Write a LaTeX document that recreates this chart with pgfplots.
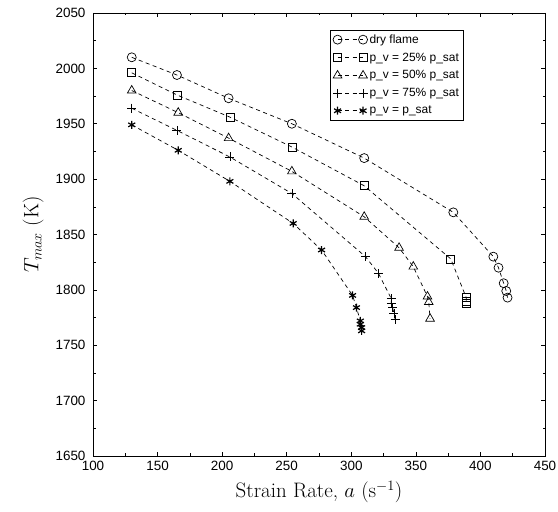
\documentclass[border=0pt]{standalone}
\usepackage{pgfplots}
\pgfplotsset{compat=1.18}
\usepackage{fontspec}
\newfontfamily\helv{Liberation Sans}
\begin{document}
\begin{tikzpicture}
\path[use as bounding box] (0,0) rectangle (558bp,512bp);
\begin{axis}[
  at={(93bp,56bp)}, anchor=south west,
  scale only axis, width=452bp, height=443bp,
  xmin=100, xmax=450, ymin=1650, ymax=2050,
  xtick={100,150,...,450}, ytick={1650,1700,...,2050},
  minor tick num=1,
  tick align=inside,
  major tick length=4bp, minor tick length=2.5bp,
  tick style={black, line width=0.5pt},
  axis line style={line width=0.8pt},
  ticklabel style={font=\helv\fontsize{13.5}{14}\selectfont},
  xticklabel style={yshift=-2bp},
  yticklabel style={xshift=-4bp},
  /pgf/number format/assume math mode=true,
  /pgf/number format/set thousands separator={},
  xlabel={Strain Rate, $a$ (s$^{-1}$)},
  ylabel={$T_{max}$ (K)},
  label style={font=\fontsize{21}{23}\selectfont},
  xlabel style={yshift=-3bp},
  ylabel style={yshift=5bp},
  cycle list={{black}},
  every axis plot/.append style={black, dash pattern=on 4bp off 3.5bp, line width=0.7pt, mark options={solid, fill=white, line width=0.7pt}},
  legend style={at={(0.525,0.962)}, anchor=north west, font=\helv\fontsize{12}{13}\selectfont, draw=black, line width=0.5pt, inner sep=2.5pt, row sep=4bp, cells={anchor=west}},
  legend image code/.code={\draw[#1] plot coordinates {(0cm,0cm) (0.9cm,0cm)};},
]
\addplot[mark=o, mark size=4.5bp] coordinates {
(130,2010) (165,1994) (205,1973) (254,1950) (310,1919) (379,1870) (410,1830) (414,1820) (418,1806) (420,1799) (421,1793)};
\addlegendentry{dry flame}
\addplot[mark=square, mark size=4bp] coordinates {
(130,1996) (165,1976) (206,1956) (254,1929) (310,1894) (377,1828) (389,1793) (389,1790) (389,1788)};
\addlegendentry{p\_v = 25\%  p\_sat}
\addplot[mark=triangle, mark size=5bp] coordinates {
(130,1980) (166,1960) (205,1937) (254,1907) (310,1866) (337,1838) (348,1821) (359,1794) (360,1789) (361,1774)};
\addlegendentry{p\_v = 50\%  p\_sat}
\addplot[mark=+, mark size=4.5bp] coordinates {
(130,1964) (165,1944) (206,1920) (254,1887) (311,1830) (321,1815) (331,1792) (331,1788) (332,1784) (333,1779) (334,1773)};
\addlegendentry{p\_v = 75\%  p\_sat}
\addplot[mark=asterisk, mark size=4bp, mark options={solid, line width=1.2pt}] coordinates {
(130,1949) (166,1926) (206,1898) (255,1860) (277,1836) (301,1795) (304,1784) (307,1772) (307,1769) (308,1766) (308,1763)};
\addlegendentry{p\_v = p\_sat}
\end{axis}
\end{tikzpicture}
\end{document}
